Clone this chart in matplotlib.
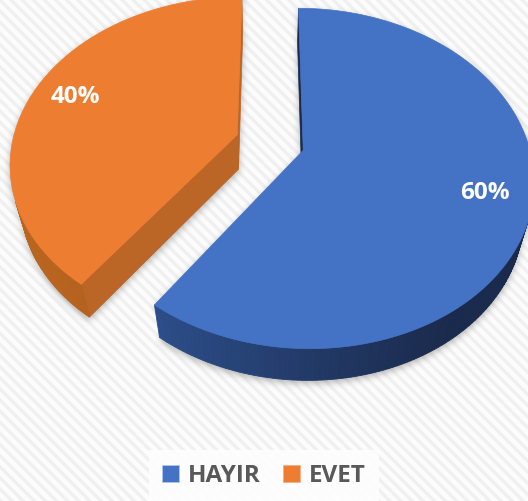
import numpy as np
import matplotlib
matplotlib.use('Agg')
import matplotlib.pyplot as plt
from matplotlib.patches import Polygon, Rectangle, Patch
from matplotlib.path import Path
from matplotlib.colors import to_rgb

# ---------------- data ----------------
categories = ['HAYIR', 'EVET']
values = [60, 40]
slice_colors = ['#4472C4', '#ED7D31']
wall_light = ['#2e5190', '#b9641f']
wall_dark = ['#1a2a4c', '#8f4a16']
face_colors = ['#1a2a4c', '#bb6526']
label_color = '#595959'

# ---------------- figure ----------------
W, H = 528, 501
fig = plt.figure(figsize=(W / 100, H / 100), dpi=100)
fig.patch.set_facecolor('white')
ax = fig.add_axes([0, 0, 1, 1])
ax.set_xlim(0, W)
ax.set_ylim(H, 0)
ax.axis('off')

plt.rcParams['hatch.linewidth'] = 2.4
bg = Rectangle((0, 0), W, H, facecolor='#fcfcfc', edgecolor='#f0f0f0',
               hatch='\\\\\\', linewidth=0, zorder=0)
ax.add_patch(bg)

# ---------------- 3D projection parameters ----------------
elev = np.deg2rad(46.4)
s_e, c_e = np.sin(elev), np.cos(elev)
D = 4.2          # camera distance (in radii)
F = 945.0        # focal scale (pixels)
CX, CY = 270.0, 142.5
THICK = 0.23
EXPLODE = 0.154
CAM = np.array([0.0, -D * c_e, D * s_e])


def project(X, Y, Z):
    X = np.asarray(X, float); Y = np.asarray(Y, float); Z = np.asarray(Z, float)
    depth = D + Y * c_e - Z * s_e
    sx = CX + F * X / depth
    sy = CY - F * (Y * s_e + Z * c_e) / depth
    return np.column_stack([sx, sy])


def visible(p, n):
    return np.dot(CAM - p, n) > 0


def mix(c1, c2, t):
    a = np.array(to_rgb(c1)); b = np.array(to_rgb(c2))
    return tuple(b + (a - b) * t)


total = float(sum(values))
fracs = np.array(values) / total
starts = np.concatenate([[0], np.cumsum(fracs)[:-1]]) * 2 * np.pi
ends = np.cumsum(fracs) * 2 * np.pi
mids = (starts + ends) / 2
offs = [EXPLODE * np.array([np.sin(m), np.cos(m)]) for m in mids]

# order: far slices first
order = sorted(range(len(values)), key=lambda i: -offs[i][1])

light_dir = np.array([-0.95, -0.3])
light_dir = light_dir / np.linalg.norm(light_dir)
shapes = []
geom = {}
for i in range(len(values)):
    a0, a1 = starts[i], ends[i]
    ox, oy = offs[i]
    t = np.linspace(a0, a1, 200)
    ax_ = ox + np.sin(t)
    ay_ = oy + np.cos(t)
    X = np.concatenate([[ox], ax_])
    Y = np.concatenate([[oy], ay_])
    top = project(X, Y, np.zeros_like(X))
    bot = project(X, Y, -THICK * np.ones_like(X))
    geom[i] = (t, ax_, ay_, top, bot)
    shapes += [top, bot]

# ---------------- soft shadow ----------------
yy, xx = np.mgrid[0:H, 0:W]
pts = np.column_stack([xx.ravel() + 0.5, yy.ravel() + 0.5 - 3])
mask = np.zeros(H * W, bool)
for poly in shapes:
    mask |= Path(poly).contains_points(pts)
mask = mask.reshape(H, W).astype(float)


def box_blur(img, r):
    k = 2 * r + 1
    p = np.pad(img, ((r, r), (0, 0)), mode='edge')
    c = np.cumsum(np.vstack([np.zeros((1, p.shape[1])), p]), axis=0)
    img = (c[k:] - c[:-k]) / k
    p = np.pad(img, ((0, 0), (r, r)), mode='edge')
    c = np.cumsum(np.hstack([np.zeros((p.shape[0], 1)), p]), axis=1)
    return (c[:, k:] - c[:, :-k]) / k


for _ in range(3):
    mask = box_blur(mask, 3)
shadow = np.zeros((H, W, 4))
shadow[..., :3] = 0.35
shadow[..., 3] = mask * 0.45
ax.imshow(shadow, extent=[0, W, H, 0], zorder=1, interpolation='bilinear')

# ---------------- 3D pie ----------------
z = 2
for i in order:
    t, ax_, ay_, top, bot = geom[i]
    ox, oy = offs[i]
    a0, a1 = starts[i], ends[i]
    # radial faces
    for ang, sign in ((a0, -1), (a1, 1)):
        n = sign * np.array([np.cos(ang), -np.sin(ang), 0.0])
        p = np.array([ox + 0.5 * np.sin(ang), oy + 0.5 * np.cos(ang), -THICK / 2])
        if visible(p, n):
            Xf = [ox, ox + np.sin(ang), ox + np.sin(ang), ox]
            Yf = [oy, oy + np.cos(ang), oy + np.cos(ang), oy]
            Zf = [0, 0, -THICK, -THICK]
            col = face_colors[i]
            ax.add_patch(Polygon(project(Xf, Yf, Zf), closed=True, facecolor=col,
                                 edgecolor=col, linewidth=0.5, zorder=z))
    # outer wall
    for k in range(len(t) - 1):
        tm = (t[k] + t[k + 1]) / 2
        n = np.array([np.sin(tm), np.cos(tm), 0.0])
        p = np.array([ox + np.sin(tm), oy + np.cos(tm), -THICK / 2])
        if not visible(p, n):
            continue
        Xq = [ax_[k], ax_[k + 1], ax_[k + 1], ax_[k]]
        Yq = [ay_[k], ay_[k + 1], ay_[k + 1], ay_[k]]
        Zq = [0, 0, -THICK, -THICK]
        tt = (np.dot(n[:2], light_dir) + 1) / 2
        tt = np.clip((tt - 0.35) / 0.6, 0, 1) ** 1.3
        col = mix(wall_light[i], wall_dark[i], tt)
        ax.add_patch(Polygon(project(Xq, Yq, Zq), closed=True, facecolor=col,
                             edgecolor=col, linewidth=0.6, zorder=z))
    # top face
    ax.add_patch(Polygon(top, closed=True, facecolor=slice_colors[i],
                         edgecolor=slice_colors[i], linewidth=0.5, zorder=z + 1))
    # label
    lp = project([offs[i][0] + 0.8 * np.sin(mids[i])],
                 [offs[i][1] + 0.8 * np.cos(mids[i])], [0])[0]
    ax.text(lp[0], lp[1], f'{values[i] / total * 100:.0f}%', color='white',
            fontsize=17.5, fontweight='bold', family=['Open Sans', 'DejaVu Sans'],
            ha='center', va='center', zorder=z + 2)
    z += 3

# ---------------- legend ----------------
handles = [Patch(facecolor=slice_colors[i], edgecolor='#b4c7e7' if i == 0 else '#f4b183',
                 linewidth=0.6) for i in range(len(values))]
leg = ax.legend(handles, categories, loc='lower center', bbox_to_anchor=(0.5, 0.0),
                ncol=2, frameon=True, fancybox=False, handlelength=0.7,
                handleheight=0.7, handletextpad=0.35, columnspacing=0.95,
                borderpad=0.55, borderaxespad=0.0,
                prop={'family': ['Open Sans', 'DejaVu Sans'], 'weight': 'bold', 'size': 17.5})
leg.get_frame().set_facecolor('#fefefe')
leg.get_frame().set_edgecolor('none')
leg.get_frame().set_alpha(0.9)
leg.set_zorder(20)
for txt in leg.get_texts():
    txt.set_color(label_color)

fig.savefig('out.png', dpi=100, facecolor=fig.get_facecolor())
